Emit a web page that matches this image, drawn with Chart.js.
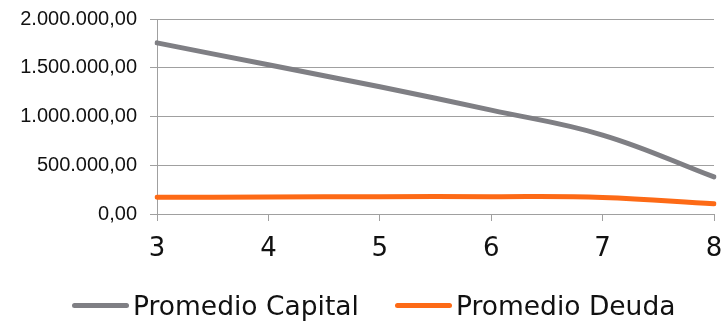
<!DOCTYPE html>
<html>
<head>
<meta charset="utf-8">
<script src="https://cdn.jsdelivr.net/npm/chart.js@4/dist/chart.umd.min.js"></script>
<style>
  html, body { margin: 0; padding: 0; background: #fff; }
  #wrap { position: relative; width: 724px; height: 322px; }
  #leyenda {
    position: absolute; left: 72px; top: 289px; height: 32px;
    display: flex; align-items: center;
    font-family: "DejaVu Sans", sans-serif; font-size: 26.5px; color: #111;
  }
  .item { display: flex; align-items: center; margin-right: 36px; }
  .linea { width: 57px; height: 5px; border-radius: 3px; margin-right: 4px; }
</style>
</head>
<body>
<div id="wrap">
  <canvas id="promChart"></canvas>
  <div id="leyenda"></div>
</div>
<script>
'use strict';

// años (eje X)
var periodos = ["3", "4", "5", "6", "7", "8"];

// series
var promedioCapital = [1755000, 1530000, 1305000, 1065000, 810000, 380000];
var promedioDeuda = [171000, 174000, 177000, 178000, 170000, 105000];

// marcas del eje Y
var yMin = 0;
var yMax = 2000000;
var yPaso = 500000;

var colorGris = "rgb(127, 127, 132)";
var colorNaranja = "rgb(253, 106, 22)";
var colorRejilla = "rgb(160, 160, 160)";

// formato 1.500.000,00
function formatoNumero(v) {
  var partes = v.toFixed(2).split(".");
  var entero = partes[0].replace(/\B(?=(\d{3})+(?!\d))/g, ".");
  return entero + "," + partes[1];
}

var ctx = document.getElementById("promChart").getContext("2d");

var promChart = new Chart(ctx, {
  type: "line",
  data: {
    labels: periodos,
    datasets: [
      {
        label: "Promedio Capital",
        data: promedioCapital,
        borderColor: colorGris,
        backgroundColor: colorGris,
        borderWidth: 5,
        borderCapStyle: "round",
        tension: 0.4,
        pointRadius: 0,
      },
      {
        label: "Promedio Deuda",
        data: promedioDeuda,
        borderColor: colorNaranja,
        backgroundColor: colorNaranja,
        borderWidth: 5,
        borderCapStyle: "round",
        tension: 0.4,
        pointRadius: 0,
      },
    ],
  },
  options: {
    responsive: true,
    maintainAspectRatio: false,
    animation: false,
    layout: {
      padding: { left: 0, right: 0, top: 8, bottom: 58 },
    },
    plugins: {
      tooltip: { enabled: false },
      legend: { display: false },
    },
    scales: {
      x: {
        offset: false,
        afterFit: function (scale) {
          scale.height = 50;
          scale.paddingRight = 10;
        },
        grid: {
          drawOnChartArea: false,
          drawTicks: true,
          tickLength: 7,
          color: colorRejilla,
        },
        border: { color: colorRejilla, width: 1 },
        ticks: {
          color: "#111",
          padding: 13,
          maxRotation: 0,
          font: { family: "DejaVu Sans", size: 26 },
        },
      },
      y: {
        min: yMin,
        max: yMax,
        afterFit: function (scale) {
          scale.width = 157;
          scale.paddingTop = 19;
        },
        grid: {
          color: colorRejilla,
          tickLength: 7,
        },
        border: { color: colorRejilla, width: 1 },
        ticks: {
          stepSize: yPaso,
          color: "#111",
          padding: 13,
          font: { family: "Liberation Sans", size: 20 },
          callback: function (v) {
            return formatoNumero(v);
          },
        },
      },
    },
  },
});

// leyenda con la línea pegada al texto
var leyenda = document.getElementById("leyenda");
promChart.data.datasets.forEach(function (ds) {
  var item = document.createElement("div");
  item.className = "item";
  var linea = document.createElement("span");
  linea.className = "linea";
  linea.style.backgroundColor = ds.borderColor;
  var texto = document.createElement("span");
  texto.textContent = ds.label;
  item.appendChild(linea);
  item.appendChild(texto);
  leyenda.appendChild(item);
});
</script>
</body>
</html>
